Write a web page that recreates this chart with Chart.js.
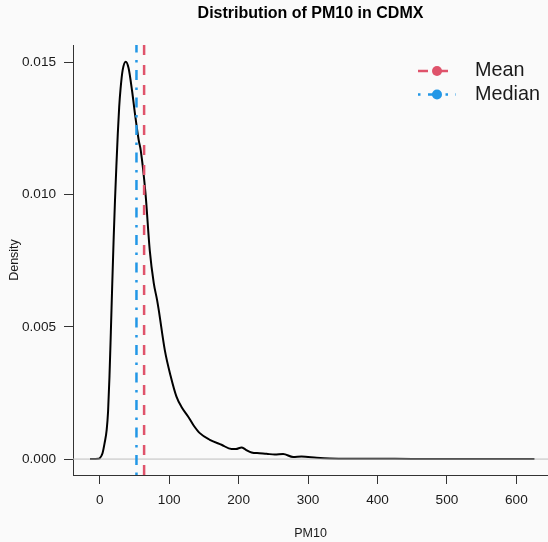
<!DOCTYPE html>
<html>
<head>
<meta charset="utf-8">
<title>Distribution of PM10 in CDMX</title>
<script src="https://cdn.jsdelivr.net/npm/chart.js@4.4.1/dist/chart.umd.min.js"></script>
<style>
  html, body { margin: 0; padding: 0; background: #fafafa; overflow: hidden; }
  #wrap { width: 548px; height: 542px; }
</style>
</head>
<body>
<div id="wrap"><canvas id="densityChart"></canvas></div>
<script>
// kernel density estimate of PM10 (x = concentration, y = density)
const pm10 = [-14, -2, 0, 4, 7, 10, 12, 14, 16, 18, 20, 22, 24, 26, 28, 30, 33, 37.5, 41.5,
  46.5, 51, 56.2, 59.1, 65.9, 72, 77.8, 82.6, 85, 93.7, 102, 110.5, 118, 127.2, 135, 144.1, 158.5,
  175.4, 189.8, 196, 204.2, 210, 218.6, 230, 240.2, 252, 264.1, 278.5, 290.6, 312.3, 331.4, 360,
  400, 450, 500, 550, 600, 626];
const density = [0, 0.00001, 0.00003, 0.00022, 0.00060, 0.00110, 0.00180, 0.00310, 0.00480, 0.00660,
  0.00830, 0.00980, 0.01110, 0.01230, 0.01330, 0.01400, 0.01470, 0.01502, 0.01478,
  0.01393, 0.01300, 0.01204, 0.01166, 0.01004, 0.00790, 0.00665, 0.00601, 0.00563, 0.00412, 0.00315,
  0.00236, 0.00196, 0.00161, 0.00128, 0.00098, 0.00073,
  0.00054, 0.00038, 0.00038, 0.00044, 0.00036, 0.00025, 0.00022, 0.00020, 0.00017, 0.00019, 0.00008,
  0.00010, 0.00005, 0.00002, 0.00001,
  0.00001, 0.000005, 0.000005, 0.000004, 0.000004, 0];

// summary statistics shown as vertical reference lines
const statLabels = ['Mean', 'Median'];
const statValues = [63.9, 52.9];
const statColors = ['#DF536B', '#2297E6'];
const statDashes = [[10, 10], [2.5, 7.5, 10, 7.5]];

// axis ranges and ticks
const xRange = [-38.5, 645.5];
const yRange = [-0.000602, 0.01565];
const xTicks = [0, 100, 200, 300, 400, 500, 600];
const yTicks = [0, 0.005, 0.010, 0.015];
const yTickLabels = ['0.000', '0.005', '0.010', '0.015'];

const FONT = "'Liberation Sans', Arial, Helvetica, sans-serif";
const INK = '#1a1a1a';

const curve = pm10.map((x, i) => ({ x: x, y: density[i] }));
const zeroLine = [{ x: xRange[0], y: 0 }, { x: xRange[1], y: 0 }];

const datasets = [];
// reference lines first so they sit above the curve
statLabels.forEach((name, i) => {
    datasets.push({
        label: name,
        data: [{ x: statValues[i], y: yRange[0] }, { x: statValues[i], y: yRange[1] }],
        borderColor: statColors[i],
        backgroundColor: statColors[i],
        borderWidth: 2.5,
        borderDash: statDashes[i],
        borderCapStyle: 'butt',
        pointRadius: 0,
        order: 0
    });
});
datasets.push({
    label: 'zero',
    data: zeroLine,
    borderColor: '#bebebe',
    borderWidth: 1,
    pointRadius: 0,
    order: 1
});
datasets.push({
    label: 'density',
    data: curve,
    borderColor: '#000000',
    borderWidth: 2,
    pointRadius: 0,
    cubicInterpolationMode: 'monotone',
    order: 2
});

// legend in the top-right: dashed segment with a filled dot, then the label
const statLegend = {
    id: 'statLegend',
    afterDraw(chart) {
        const ctx = chart.ctx;
        const x0 = 418, x1 = 456, cx = 437, tx = 475;
        const rows = [71, 94.5];
        ctx.save();
        statLabels.forEach((name, i) => {
            const y = rows[i];
            ctx.strokeStyle = statColors[i];
            ctx.lineWidth = 2.5;
            ctx.lineCap = 'butt';
            ctx.setLineDash(statDashes[i]);
            ctx.beginPath();
            ctx.moveTo(x0, y);
            ctx.lineTo(x1, y);
            ctx.stroke();
            ctx.setLineDash([]);
            ctx.fillStyle = statColors[i];
            ctx.beginPath();
            ctx.arc(cx, y, 5, 0, Math.PI * 2);
            ctx.fill();
            ctx.fillStyle = INK;
            ctx.font = '19.8px ' + FONT;
            ctx.textAlign = 'left';
            ctx.textBaseline = 'middle';
            ctx.fillText(name, tx, y);
        });
        ctx.restore();
    }
};

const axisGrid = {
    display: true,
    drawOnChartArea: false,
    drawTicks: true,
    tickLength: 9,
    tickColor: '#333333',
    tickWidth: 1
};

new Chart(document.getElementById('densityChart'), {
    type: 'line',
    data: { datasets: datasets },
    options: {
        responsive: true,
        maintainAspectRatio: false,
        animation: false,
        layout: { padding: 0 },
        plugins: {
            legend: { display: false },
            tooltip: { enabled: false },
            title: {
                display: true,
                text: 'Distribution of PM10 in CDMX',
                color: '#000',
                fullSize: false,
                font: { family: FONT, size: 16, weight: 'bold', lineHeight: 1.2 },
                padding: { top: 3.5, bottom: 22.3 }
            }
        },
        scales: {
            x: {
                type: 'linear',
                min: xRange[0],
                max: xRange[1],
                grid: axisGrid,
                border: { display: true, color: '#333333', width: 1 },
                afterBuildTicks: (scale) => { scale.ticks = xTicks.map(v => ({ value: v })); },
                afterFit: (scale) => { scale.height = 67; },
                ticks: {
                    color: INK,
                    padding: 8,
                    maxRotation: 0,
                    font: { family: FONT, size: 13.6 },
                    callback: (v) => String(v)
                },
                title: {
                    display: true,
                    text: 'PM10',
                    color: INK,
                    font: { family: FONT, size: 12.5 },
                    padding: { top: 0, bottom: 1 }
                }
            },
            y: {
                type: 'linear',
                min: yRange[0],
                max: yRange[1],
                grid: axisGrid,
                border: { display: true, color: '#333333', width: 1 },
                afterBuildTicks: (scale) => { scale.ticks = yTicks.map(v => ({ value: v })); },
                afterFit: (scale) => { scale.width = 73; },
                ticks: {
                    color: INK,
                    padding: 8,
                    font: { family: FONT, size: 13.6 },
                    callback: (v) => {
                        const k = yTicks.findIndex(t => Math.abs(t - v) < 1e-9);
                        return k >= 0 ? yTickLabels[k] : '';
                    }
                },
                title: {
                    display: true,
                    text: 'Density',
                    color: INK,
                    font: { family: FONT, size: 12.5 },
                    padding: { top: 7, bottom: 0 }
                }
            }
        }
    },
    plugins: [statLegend]
});
</script>
</body>
</html>
